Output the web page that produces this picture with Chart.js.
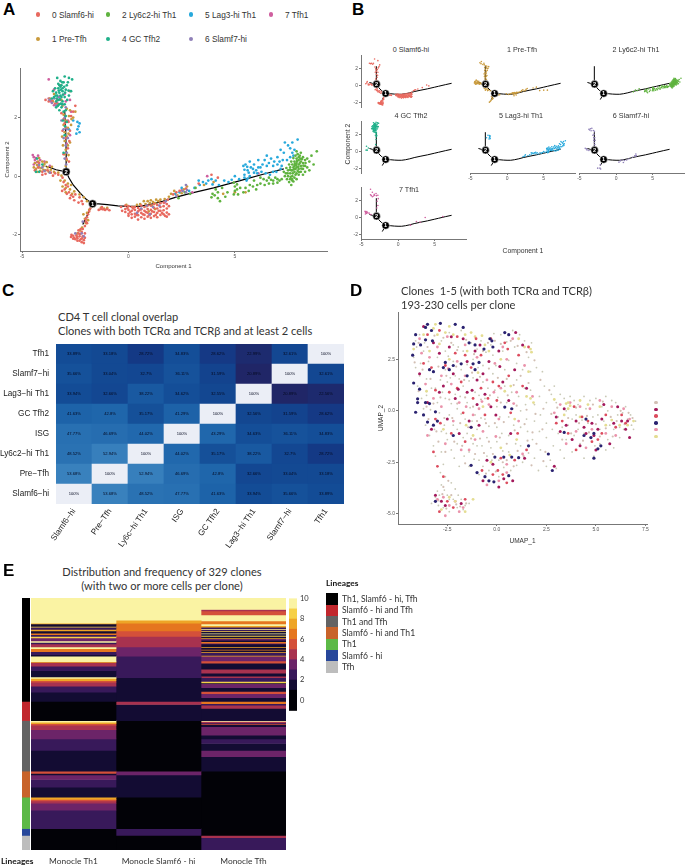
<!DOCTYPE html>
<html>
<head>
<meta charset="utf-8">
<title>CD4 T cell clones</title>
<script src="https://cdn.jsdelivr.net/npm/chart.js@4"></script>
<style>
  html, body { margin: 0; background: #fff; }
  #page { position: relative; width: 686px; height: 866px; overflow: hidden; }
  #page canvas { position: absolute; }
  .txt { position: absolute; white-space: pre; line-height: 1; color: #222; }
  .dot, .swatch { position: absolute; }
  .dot { border-radius: 50%; }
</style>
</head>
<body>
<div id="page"></div>
<script>
// Monocle clusters
const clusterNames = ["0 Slamf6-hi", "1 Pre-Tfh", "2 Ly6c2-hi Th1", "4 GC Tfh2", "5 Lag3-hi Th1", "6 Slamf7-hi", "7 Tfh1"];
const clusterColors = ["#e8695f", "#c99a3c", "#5fb33f", "#1fb08a", "#27a9dc", "#8f80b8", "#cf5f9f"];

const slamf6Pts = [[-2.7,-2.07],[-2.6,-2.03],[-2.55,-2.1],[-2.45,-2.02],[-2.4,-2.12],[-2.35,-1.95],[-2.3,-2.05],[-2.25,-2.15],[-2.2,-1.9],[-2.15,-2.05],[-2.1,-2.18],[-2.3,-2.2],[-2.2,-2.25],[-2.4,-2.2],[-2.5,-2.15],[-2.15,-1.8],[-2.05,-2.1],[-2.25,-1.8],[-2.35,-1.85],[-2.05,-1.95],[-2.1,-2.28],[-2.6,-2.13],[-2.68,-2],[-2.28,-1.97],[-2.18,-2.12],[-2.42,-2.07],[-2.05,-1.7],[-2,-1.55],[-1.95,-1.4],[-1.9,-1.3],[-1.85,-1.2],[-1.8,-1.1],[-1.95,-1.6],[-2.02,-1.47],[-1.4,-1.15],[-1.3,-1.12],[-1.2,-1.13],[-1.1,-1.15],[-1,-1.12],[-0.9,-1.16],[-1.25,-1.05],[-0.35,-1.05],[-0.3,-1.18],[-0.15,-1],[-0.15,-1.12],[-0.15,-1.22],[0,-1.02],[0,-1.15],[0,-1.28],[0,-1.35],[0.15,-1.05],[0.15,-1.18],[0.15,-1.3],[0.15,-1.42],[0.3,-1.05],[0.3,-1.15],[0.3,-1.28],[0.3,-1.38],[0.45,-1.08],[0.45,-1.2],[0.45,-1.33],[0.45,-1.48],[0.6,-1],[0.6,-1.13],[0.6,-1.25],[0.6,-1.4],[0.75,-1.05],[0.75,-1.18],[0.75,-1.32],[0.75,-1.45],[0.9,-1],[0.9,-1.12],[0.9,-1.25],[0.9,-1.38],[1.05,-1],[1.05,-1.15],[1.05,-1.28],[1.05,-1.42],[1.2,-0.95],[1.2,-1.08],[1.2,-1.22],[1.2,-1.36],[1.35,-0.98],[1.35,-1.1],[1.35,-1.25],[1.35,-1.4],[1.5,-0.92],[1.5,-1.05],[1.5,-1.18],[1.5,-1.32],[1.65,-0.9],[1.65,-1.02],[1.65,-1.16],[1.65,-1.3],[1.8,-0.95],[1.8,-1.1],[1.8,-1.24],[1.8,-1.38],[1.85,-0.8],[1.9,-1.02],[1.9,-1.3],[2.1,-0.62],[2.25,-0.55],[2.4,-0.5],[2.7,-0.42],[3.3,-0.25],[3.9,0.05],[4.2,-0.05],[-3.12,-0.5],[-3,-0.45],[-2.9,-0.6],[-2.8,-0.55],[-2.7,-0.65],[-2.6,-0.7],[-2.95,-0.3],[-3.05,-0.2],[-3.1,-0.05],[-2.5,-0.62],[-2.3,-0.72],[-2.2,-0.85],[-2.85,-0.35],[-2.92,0.6],[-2.85,0.95],[-2.95,1.3],[-2.75,1.55],[-3,1.8],[-2.6,2.2],[-3.35,2.6],[-3.2,3.1],[-2.75,2.9],[-2.5,2.4],[-4.4,0.2],[-4.2,0.45],[-4.05,0.15],[-3.8,0.2],[-3.65,0.12],[-3.45,0.1],[-3.3,0.05],[-2.8,0.5],[-3.05,0.75],[-2.78,1.2],[-3.1,1.55],[-2.95,1.65],[-2.82,1.85],[-3.05,1.95],[-2.7,2.05],[-3.15,2.15],[-3.6,2.58],[-3.75,2.55],[-3.45,2.48],[-3.9,2.6],[-4.25,0.3],[-4.05,0.05],[-3.9,0.08],[-3.55,0.02],[-2.75,-0.75],[-2.55,-0.82],[-2.35,-0.9],[-2.15,-0.95],[-0.05,-1.08],[0.08,-1.22],[0.22,-1.1],[0.38,-1.32],[0.52,-1.15],[0.68,-1.3],[0.82,-1.22],[0.98,-1.33],[1.12,-1.2],[1.28,-1.32],[1.42,-1.18],[1.58,-1.25],[1.72,-1.35]];

const preTfhPts = [[-2.12,-1.3],[-2.05,-1.45],[-2,-1.6],[-1.95,-1.25],[-1.85,-1.15],[-1.9,-1.5],[-2.18,-1.75],[-2.28,-1.85],[-2.4,-1.95],[-1.75,-1.05],[-1.8,-0.9],[-1.95,-0.85],[-2.1,-0.72],[-2.3,-0.62],[-2.55,-0.52],[-2.75,-0.45],[-2.95,-0.4],[-3.1,-0.35],[-3,-0.15],[-2.85,-0.25],[-2.7,-0.3],[-3.15,0.02],[-3.3,0.12],[-3.5,0.15],[-3.65,0.22],[-3.8,0.3],[-3.9,0.2],[-4,0.35],[-4.1,0.28],[-4.2,0.3],[-4.3,0.38],[-4.4,0.45],[-4.35,0.25],[-4.25,0.5],[-4.05,0.5],[-3.95,0.42],[-3.85,0.48],[-4.15,0.18],[-4.45,0.3],[-2.95,0.35],[-2.9,0.55],[-3,0.75],[-2.95,0.9],[-2.85,1.05],[-3,1.2],[-2.9,1.35],[-2.75,1.15],[-3,1.5],[-2.85,1.65],[-2.7,1.75],[-3.05,1.75],[-2.95,1.9],[-2.8,2.05],[-2.6,2],[-3.05,2.1],[-2.9,2.3],[-3.3,2.45],[-3.15,2.6],[-2.5,2.2],[-3.5,2.8],[-3.7,2.65],[-3.55,2.55],[0.72,-0.85],[0.8,-0.95],[0.9,-0.85],[1,-0.92],[1.05,-0.82],[1.15,-0.88],[1.25,-0.92],[1.3,-0.8],[0.85,-1.02],[1.1,-1],[1.4,-0.85],[1.5,-0.8],[1.7,-0.78],[1.9,-0.7],[2,-0.6],[2.15,-0.5],[2.3,-0.65],[2.5,-0.58],[2.6,-0.45],[2.75,-0.35],[0.95,-1.2],[1.25,-1.12],[0.55,-0.95],[-0.1,-0.98],[0.2,-1.05],[0.4,-0.98],[3.55,-0.3],[4,-0.2],[4.45,-0.6],[5,-0.55],[5.5,-0.55],[-1.3,-1.08],[-1.15,-1.1],[-1,-1.08],[-2.82,0.72],[-3.08,1.05],[-2.82,1.45],[-3.12,1.35],[-2.68,1.95],[-2.75,2.25],[-3.1,2.4],[-4.2,0.62],[-4,0.22],[-3.75,0.15],[-4.3,0.15],[-3.6,0.32],[-2.95,-0.55],[-2.65,-0.6],[-3.2,-0.15]];

const ly6c2Pts = [[7.4,0.1],[7.5,0.2],[7.5,0],[7.6,0.3],[7.6,0.1],[7.6,-0.1],[7.7,0.4],[7.7,0.2],[7.7,0],[7.7,-0.15],[7.8,0.5],[7.8,0.35],[7.8,0.15],[7.8,-0.05],[7.9,0.6],[7.9,0.45],[7.9,0.3],[7.9,0.1],[7.9,-0.1],[8,0.55],[8,0.4],[8,0.25],[8,0.05],[8.1,0.5],[8.1,0.35],[8.1,0.15],[8.2,0.45],[8.2,0.25],[8.2,0.05],[8.3,0.35],[8.3,0.15],[8.4,0.3],[8.5,0.5],[8.6,0.7],[8.7,0.4],[8.85,0.85],[8.4,0.6],[7.85,0.7],[7.95,0.75],[8.05,0.7],[7.75,0.62],[7.65,0.5],[7.55,0.4],[7.42,0.28],[7.3,0.15],[7.35,0],[7.45,-0.1],[7.55,-0.2],[7.65,-0.3],[7.75,-0.18],[7.68,-0.1],[8.3,0.55],[8.2,0.65],[8.5,0.2],[8.1,0.8],[7.95,0.18],[8.05,0.45],[7.85,0.25],[8.15,0.58],[7.75,0.3],[7.65,0.2],[7.85,0.05],[8,0.65],[7.9,0.85],[7.58,0.22],[7.72,0.1],[7.82,0.42],[7.92,0.52],[8.02,0.14],[8.12,0.26],[8.22,0.36],[8.32,0.45],[7.88,0.38],[7.62,-0.02],[7.78,0.24],[7.98,0.32],[8.08,0.6],[7.48,0.1],[7.2,-0.1],[7.1,-0.15],[7,-0.1],[7,-0.22],[6.9,-0.05],[6.8,-0.15],[6.8,-0.25],[6.7,-0.12],[6.6,-0.05],[6.6,-0.25],[6.5,-0.15],[6.4,-0.3],[6.35,-0.1],[6.2,-0.05],[6.2,-0.25],[6.05,-0.3],[6,-0.45],[5.9,-0.15],[5.85,-0.35],[5.7,-0.3],[5.65,-0.5],[5.5,-0.4],[5.4,-0.55],[5.25,-0.4],[5.15,-0.62],[5.1,-0.28],[5.1,-0.45],[5,-0.35],[5,-0.5],[4.95,-0.22],[4.95,-0.62],[4.4,-0.4],[4.2,-0.55],[4.2,-0.75],[4.05,-0.65],[4.1,-0.45],[4.3,-0.85],[4.55,-0.7],[4.65,-0.55],[3.9,-0.72],[3.95,-0.6],[2.9,-0.6],[2.65,-0.55],[3.15,-0.4],[2.35,-0.75]];

const gcTfh2Pts = [[-3.5,2.7],[-3.4,2.85],[-3.3,3],[-3.2,2.75],[-3.3,2.6],[-3.15,3.1],[-3.1,2.9],[-3,2.7],[-3.1,2.55],[-3.25,2.45],[-3.4,2.55],[-3.05,3.2],[-3.2,3.25],[-3.3,3.15],[-3.45,3],[-3.55,2.9],[-2.95,2.95],[-3.15,2.35],[-3.05,2.2],[-3.25,2.25],[-2.9,3.1],[-2.8,3.35],[-3,3.4],[-2.65,3.3],[-3.35,3.35],[-2.8,2.75],[-2.7,2.9],[-3.15,2.7],[-3.25,2.85],[-3,2.45],[-2.95,2.05],[-2.98,1.7],[-3,1.4],[-3.05,0.8],[-3.4,2.35],[-3.6,2.65],[-3.2,3.05],[-3.35,2.75],[-3.1,3],[-3.22,2.62],[-4.3,0.6],[-4.05,0.4],[-4.35,0.15],[-4.2,0.15],[-3.38,2.65],[-3.28,2.92],[-3.18,2.95],[-3.08,2.78],[-2.98,2.85],[-3.42,2.75],[-3.12,2.45],[-3.32,2.4],[-2.88,2.6],[-2.82,2.92],[-3.02,3.05],[-3.12,3.2],[-3.25,3.1],[-3.18,2.48],[-2.95,2.25],[-2.85,3.2],[-3.08,1.9],[-2.9,1.85]];

const lag3Pts = [[7.6,0.95],[7.7,1.15],[7.5,1.05],[7.8,0.9],[7.35,1.15],[7.95,1.25],[7.7,0.8],[7.6,0.65],[7.45,0.55],[7.25,0.55],[7.2,0.35],[7.15,0.25],[7,0.65],[7,0.4],[6.95,0.15],[6.8,0.35],[6.8,0.15],[6.7,0.6],[6.65,0.05],[6.5,0.7],[6.5,0.35],[6.45,0.1],[6.3,0.4],[6.25,0.15],[6.1,0.55],[6.1,0.3],[6.05,0.1],[5.9,0.4],[5.9,0.12],[5.75,0.3],[5.7,0.5],[5.7,0],[5.6,-0.08],[5.6,0.2],[5.55,-0.15],[5.45,0.05],[5.4,0.35],[5.45,-0.05],[5.45,0.22],[5.5,0.4],[5,0],[4.7,-0.2],[4.5,-0.15],[4.25,-0.3],[4.1,-0.15],[3.95,-0.28],[3.9,-0.1],[3.75,-0.15],[3.65,-0.25],[3.5,-0.2],[3.35,-0.3],[3.3,-0.15],[3.1,-0.4],[2.85,-0.5],[2.5,-0.4],[2.4,-0.55],[2.2,-0.6],[-2.4,1.85],[-2.35,1.7],[-2.3,1.8],[-2.3,1.5],[-2.4,1.6],[-2.45,1.45],[-2.6,1.9],[-2.8,1.6],[6.85,0.5],[6.6,0.45],[6.4,0.55],[6.2,0.3],[6,0.2],[5.85,0.25],[5.65,0.12],[5.58,0.32],[7.1,0.5],[7.3,0.8],[7.15,0.9],[7.75,0.7],[5.2,-0.1],[4.85,-0.12]];

const slamf7Pts = [[-3.6,2.5],[-3.5,2.65],[-3.3,2.7],[-3.1,2.45],[-2.95,2.35],[-3,2],[-2.9,1.6],[-3.05,1.3],[-2.95,1.05],[-2.9,0.8],[-3,0.6],[-2.93,0.4],[-4.05,0.3],[-3.95,0.18],[-4.2,0.38],[-3.7,0.12],[-2.15,-1.55],[-2.2,-1.95],[-2.5,-1.95],[-2.1,-2.05],[0.6,-1.1],[0.85,-1],[1.15,-1.05],[1.45,-1],[1.75,-0.85],[2.25,-0.68],[2.55,-0.5],[2.7,-0.55],[2.7,-0.3],[2.75,-0.47],[0.4,-1.25],[1,-1.3],[-3.7,2.6],[-3.4,2.42],[-3.15,1.9],[-2.85,1.3],[-3.05,1.6]];

const tfh1Pts = [[-3.75,2.65],[-3.65,2.55],[-3.5,2.42],[-3.35,2.5],[-3.2,2.6],[-2.75,2.6],[-2.7,2.2],[-2.85,1.9],[-2.75,1.4],[-2.9,1.1],[-3.75,3.3],[-3.5,2.95],[-4.45,0.65],[-4.4,0.55],[-4.3,0.48],[-4.45,0.4],[-4.35,0.62],[-4.15,0.55],[-3.95,0.5],[-4.5,0.72],[-3.7,0.35],[3,-0.55],[3.7,0],[1.7,-0.9],[2.5,-0.48],[6.1,0.1],[-3,2.8],[-3.25,2.7],[-2.95,2.55],[-4.25,0.7]];

// Trajectory backbone and branch nodes
const trunkLine = [[7.3,0.25],[6.5,0.1],[5.5,-0.1],[5,-0.2],[4,-0.4],[3,-0.57],[2.2,-0.72],[1.6,-0.86],[1,-0.97],[0.5,-1.03],[0,-1.03],[-0.5,-1.01],[-1,-0.97],[-1.4,-0.94],[-1.7,-0.94],[-2,-0.78],[-2.3,-0.55],[-2.6,-0.3],[-2.8,-0.05],[-2.93,0.15]];
const branchUp = [[-2.93,0.15],[-2.93,0.8],[-2.95,1.5],[-3,2.25]];
const branchLeft = [[-2.93,0.15],[-3.4,0.22],[-3.9,0.35]];
const branchDown = [[-1.69,-0.94],[-1.95,-1.35],[-2.15,-1.65]];
const nodePts = [[-1.69,-0.94],[-2.93,0.15]];
const nodeNames = ["1", "2"];

const compXTicks = [-5, 0, 5];
const compYTicks = [-2, 0, 2];

// C: clonal overlap
const overlapCols = ["Slamf6\u2212hi", "Pre\u2212Tfh", "Ly6c\u2212hi Th1", "ISG", "GC Tfh2", "Lag3\u2212hi Th1", "Slamf7\u2212hi", "Tfh1"];
const overlapRowNames = ["Slamf6\u2212hi", "Pre\u2212Tfh", "Ly6c2\u2212hi Th1", "ISG", "GC Tfh2", "Lag3\u2212hi Th1", "Slamf7\u2212hi", "Tfh1"];
const rowSlamf6 = [100, 53.68, 48.52, 47.77, 41.63, 33.94, 35.66, 33.89];
const rowPreTfh = [53.68, 100, 52.94, 46.69, 42.8, 32.66, 33.04, 33.18];
const rowLy6c2 = [48.52, 52.94, 100, 44.02, 35.17, 38.22, 32.7, 28.72];
const rowIsg = [47.77, 46.69, 44.02, 100, 43.29, 34.63, 36.11, 34.83];
const rowGc = [41.63, 42.8, 35.17, 41.29, 100, 32.56, 31.59, 28.62];
const rowLag3 = [33.94, 32.66, 38.22, 34.62, 32.55, 100, 20.89, 22.56];
const rowSlamf7 = [35.66, 33.04, 32.7, 36.11, 31.59, 20.89, 100, 32.61];
const rowTfh1 = [33.89, 33.18, 28.72, 34.83, 28.62, 22.99, 32.61, 100];

// D: UMAP, five biggest clones on the full background
const umapXTicks = [-2.5, 0, 2.5, 5, 7.5];
const umapYTicks = [-5, -2.5, 0, 2.5];
const cloneLegendColors = ["#d2bfb4", "#a3195b", "#dc4c5e", "#2a2270", "#ea93ab", "#e4dd92"];

const bgCells = [[-4.1,3.4],[-3.9,3.7],[-3.7,2.9],[-4.2,2.6],[-4.1,2.1],[-3.9,1.7],[-4,1.2],[-3.8,0.6],[-3.7,0.1],[-3.6,-0.7],[-3.4,-1.2],[-3.2,-1.7],[-3.1,-2.2],[-3,2.6],[-3.2,1.9],[-3.1,1.1],[-3,0.4],[-3,-0.5],[-2.8,-1],[-2.8,-2],[-2.7,-2.6],[-2.8,3.4],[-2.6,2.9],[-2.6,2],[-2.5,1.4],[-2.6,0.6],[-2.4,-0.2],[-2.5,-1.4],[-2.3,-1.9],[-2.4,3.8],[-2.2,3.2],[-2.2,2.4],[-2.1,1.7],[-2.1,0.8],[-2,0.1],[-2,-0.9],[-2,-1.6],[-1.9,-2.7],[-1.8,3.9],[-1.7,2.9],[-1.8,2],[-1.7,1.2],[-1.5,0.4],[-1.6,-0.4],[-1.5,-1.1],[-1.4,-2],[-1.4,-2.7],[-1.3,3.3],[-1.2,2.5],[-1.2,1.6],[-1.1,0.9],[-1.1,-0.2],[-1,-0.9],[-1,-1.7],[-0.9,-2.4],[-0.9,-3.1],[-0.8,3.4],[-0.7,2.2],[-0.7,1.4],[-0.6,0.6],[-0.6,-0.4],[-0.5,-1.3],[-0.5,-2.2],[-0.4,-2.9],[-0.3,3.2],[-0.2,2.7],[-0.2,1.8],[-0.1,1],[0,0.2],[0,-0.8],[0,-1.5],[0.1,-2.4],[0.1,-3.2],[0.2,3.7],[0.3,2.9],[0.4,2],[0.4,1.2],[0.5,0.4],[0.6,-0.3],[0.6,-1.2],[0.6,-2],[0.7,-2.9],[0.8,3.9],[0.9,3.1],[1,2.3],[1,1.5],[1.1,0.7],[1.2,0],[1.2,-0.8],[1.2,-1.7],[1.3,-2.5],[1.4,3.4],[1.6,2.6],[1.7,1.9],[1.7,1],[1.9,0.3],[1.9,-0.5],[1.8,-1.4],[1.9,-2.3],[2.1,-2.9],[2.3,1.9],[2.4,1.2],[2.5,0.4],[2.5,-0.6],[2.5,-1.3],[2.7,-2.4],[3,-2.8],[2.9,1.2],[3,0.4],[3.1,-0.3],[3.1,-1.1],[3.2,-1.9],[3.4,0.6],[3.5,0],[3.6,-0.7],[3.5,-1.4],[3.8,-2],[3.9,0.5],[4,-0.2],[4.1,-0.9],[4.2,-1.6],[4.4,-2.3],[4.4,0.7],[4.5,0.1],[4.6,-0.6],[4.7,-1.3],[4.9,-2.2],[5,0.6],[5.1,-0.2],[5.2,-0.9],[5.2,-1.6],[5.5,0.7],[5.6,0],[5.7,-0.7],[5.6,-1.4],[5.9,-1.8],[6,0.4],[6.1,-0.2],[6.2,-0.8],[6.2,-1.3],[6.5,0.2],[6.6,-0.4],[6.8,-0.7],[7,-0.5],[-3.1,-4.2],[-2.8,-3.6],[-2.7,-4.7],[-2.5,-4.1],[-2.6,-3.2],[-2.4,-4.9],[-2.2,-4.3],[-2.1,-3.8],[-2,-4.7],[-1.8,-4.3],[-1.6,-4.6],[-1.4,-4.5],[-3.3,-4.5],[-3,-3.9],[-2.3,-3.5],[-4.05,3.1],[-3.65,3.3],[-3.45,2.4],[-3.85,2.3],[-3.55,1.55],[-3.3,1.1],[-3.55,0.75],[-3.35,0.05],[-3.15,-0.9],[-2.85,1.5],[-2.75,0.9],[-2.9,-0.1],[-2.65,-0.7],[-2.55,-1.1],[-2.45,2.65],[-2.35,1.6],[-2.3,0.35],[-2.2,-0.7],[-2.15,-2.3],[-1.95,3.1],[-1.9,1.55],[-1.85,0.7],[-1.8,-0.15],[-1.7,-1.3],[-1.65,-2.2],[-1.5,2.25],[-1.4,1.45],[-1.35,0.15],[-1.25,-0.5],[-1.2,-1.6],[-1.15,-2.35],[-1,3],[-0.95,2.1],[-0.9,0.75],[-0.8,-0.35],[-0.75,-1.7],[-0.7,-2.7],[-0.55,2.85],[-0.45,1.1],[-0.4,-0.75],[-0.3,-1.8],[-0.25,-2.4],[-0.15,3.75],[-0.05,2.2],[0.05,0.65],[0.15,-0.3],[0.25,-1.1],[0.3,-1.95],[0.35,-2.75],[0.5,3.35],[0.6,2.45],[0.75,0.9],[0.8,0.1],[0.85,-0.7],[0.95,-1.6],[1,-2.65],[1.15,3.7],[1.3,2],[1.4,1.1],[1.45,0.3],[1.5,-0.4],[1.55,-1],[1.6,-2.05],[1.75,3.3],[2,2.1],[2.15,0.7],[2.2,-0.2],[2.15,-1],[2.2,-1.9],[2.5,-2.7],[2.75,0.8],[2.8,-0.9],[2.85,-1.7],[3.2,0.8],[3.3,-0.8],[3.4,-2.3],[3.7,0.7],[3.8,-0.4],[3.9,-1.2],[4.1,0.3],[4.3,-0.45],[4.4,-1.1],[4.7,0.5],[4.85,-0.3],[4.95,-1.7],[5.3,0.2],[5.4,-0.5],[5.5,-1.9],[5.8,0.5],[5.9,-0.9],[6.35,-0.1],[6.4,-0.9],[6.75,-0.2],[6.9,-0.9],[-2.9,-4.1],[-2.65,-3.85],[-2.4,-4.3],[-1.95,-4.1],[-1.7,-4.8],[-2.85,-3],[-2.95,-4.6]];
const cloneGrey = [[-3.95,3.3],[-3.5,3.1],[-3.15,3.65],[-2.7,3.55],[-2.3,3.3],[-2,2.95],[-1.55,3.45],[-1.15,2.75],[-0.7,2.9],[-0.45,3.3],[-0.1,3.4],[0.2,3.25],[0.7,3.4],[1.05,3.15],[1.5,2.85],[1.9,2.45],[2.2,1.5],[2.65,1],[-4.15,2.35],[-3.75,2],[-3.35,1.55],[-2.95,2.15],[-2.55,1.7],[-2.05,2.15],[-1.65,1.5],[-1.25,1.85],[-0.85,1.65],[-0.4,2.05],[0.05,1.6],[0.5,1.55],[0.85,1.25],[1.2,1.7],[1.6,1.35],[-3.95,0.95],[-3.55,0.2],[-3.2,0.35],[-2.85,0.65],[-2.4,0.55],[-2,0.35],[-1.6,0.65],[-1.2,0.2],[-0.8,0.55],[-0.35,0.75],[0.2,0.4],[0.55,0.75],[1,0.25],[1.5,0.05],[1.95,-0.15],[2.35,0.1],[-3.45,-0.4],[-3.05,-1],[-2.65,-0.35],[-2.25,-0.35],[-1.85,-0.6],[-1.45,-0.8],[-1,-0.5],[-0.55,-0.6],[-0.1,-0.6],[0.35,-0.55],[0.9,-0.95],[1.4,-0.65],[1.8,-1.05],[2.3,-0.9],[-2.95,-1.5],[-2.6,-2],[-2.15,-1.5],[-1.75,-1.7],[-1.3,-1.35],[-0.85,-1.35],[-0.4,-1.5],[0.15,-1.3],[0.5,-1.6],[1.05,-1.95],[1.55,-1.45],[2,-1.6],[2.45,-2],[-1.6,-2.55],[-1.1,-2.1],[-0.65,-2.05],[-0.2,-2.1],[0.3,-2.5],[0.85,-2.7],[1.35,-2.2],[1.75,-2.65],[2.35,-2.45],[-0.55,-3.05],[-0.05,-2.95],[0.5,-2.4],[2.75,-0.15],[3.05,0.15],[3.3,-1.4],[3.6,-0.35],[3.75,-1.1],[4,0.15],[4.15,-0.6],[4.35,-1.45],[4.55,-0.25],[4.65,-1.05],[4.85,0.3],[5,-0.65],[5.2,-1.25],[5.35,0.45],[5.5,-0.85],[5.75,-0.3],[5.85,-1.25],[6.05,-0.5],[6.25,0],[6.45,-0.65],[6.65,-0.1],[6.85,-0.35],[-2.95,-4.35],[-2.75,-4.05],[-2.55,-4.75],[-2.3,-4.1],[-2.05,-4.55],[-1.85,-4.65],[-1.55,-4.5],[-2.7,-3.7],[-2.45,-3.4]];
const cloneCrimson = [[-3.7,4.1],[-3.2,3.3],[-3.9,1.8],[-3.5,0.4],[-3.3,-0.9],[-2.9,2.8],[-2.7,1.2],[-2.5,-0.4],[-2.4,3.1],[-2.2,1.8],[-2.1,0.6],[-1.9,-1.1],[-1.7,3.5],[-1.5,2.4],[-1.5,0.9],[-1.4,-0.5],[-1.1,2.9],[-1,1.5],[-1,0.3],[-0.9,-0.7],[-0.7,1.8],[-0.6,0.8],[-0.4,2.4],[-0.3,0.2],[-0.2,-2.6],[0.1,2.9],[0.3,1.4],[0.6,0.5],[0.7,-1.1],[0.8,-3.4],[0.9,2],[1.3,3.2],[1.4,-2.3],[1.5,1.1],[0.1,-3.7],[-0.7,-3.4],[3,-0.3],[3.2,-1],[3.4,0.1],[3.5,-0.7],[3.8,-1.4],[4,-0.5],[4.2,-1.7],[4.4,-0.8],[4.5,-1.1],[4.8,-0.6],[4.9,-1.2],[5,-1.9],[5.1,-0.9],[5.3,-0.4],[5.4,0.3],[5.7,-1.6],[5.9,-0.6],[6.1,0.2],[6.3,-0.5],[6.5,-0.9],[6.6,-0.5],[6.7,-1.3],[-3.1,-4.1],[-2.8,-4.4],[-2.6,-4.6],[-1.8,-4.5],[2.9,-2.7],[-2.9,0.9],[-2.3,3.6],[-1.95,1.05],[-1.25,1],[-0.85,3.2],[0.15,2.15],[-0.05,-0.2],[0.95,3.8],[-0.5,-2.4],[0.35,-3.3]];
const cloneRed = [[-3.5,3.7],[-3.7,2.3],[-3.1,1],[-3.1,-0.4],[-2.9,3.9],[-2.6,2.2],[-2.4,0.9],[-2.3,-1.1],[-2,3.6],[-2.1,2.8],[-1.8,1.4],[-1.7,-0.1],[-1.6,-1.5],[-1.3,2.1],[-1.2,0.6],[-1.3,-0.8],[-0.8,2.7],[-0.8,1.1],[-0.6,-0.2],[-0.3,3.5],[-0.2,1.4],[0,0.5],[0.2,-2.3],[0.4,3.3],[0.6,1.7],[0.7,-0.1],[0.9,-2.4],[1.1,2.7],[1.3,1.2],[1.6,3.1],[1.5,-1.9],[-0.2,-3.1],[0.5,-3.5],[0.3,-3.1],[-3.2,-2],[-3,-2.7],[3,-0.6],[3.3,-0.5],[3.6,-1.1],[3.9,0.2],[4,-1.9],[4.3,-0.3],[4.6,-0.5],[4.8,-1.5],[5.1,-1.4],[5.3,-1.1],[5.5,-0.2],[6,-0.8],[6.3,-0.2],[6.5,-0.6],[-2.9,-4.9],[-2.5,-4.4],[-2.2,-4.7],[-1.6,-4.3],[-2.7,-3.2],[-3.3,2.1],[-2.85,-0.6],[-2,1.1],[-1.6,2.7],[-1.05,3.5],[-0.45,0.6],[0.1,1.2],[0.55,3],[1.05,-1.1],[0.05,-2.9],[-0.75,-2.9]];
const cloneNavy = [[-3.5,4.2],[-3.6,4.05],[-4.1,3.7],[-4.2,3.25],[-3.85,3.2],[-4.25,2.7],[-3.6,3.45],[-3.25,3.4],[-3.3,3.9],[-2.85,4.25],[-2.1,4.2],[-1.7,4.05],[-1.4,3.3],[-1.1,3.2],[-0.35,3.5],[0.4,3.8],[0.6,3.7],[-1.2,2.28],[-0.9,2.35],[-1.1,2],[-1.5,1.7],[-1.8,2.28],[-2.2,2.2],[-2.4,2],[-2.7,2.1],[-3.2,1.9],[-3.4,2],[-4.2,1.35],[-3.9,1.05],[-4,0.58],[-4,0.4],[-3.6,0.4],[-3.4,0.35],[-4.1,-0.07],[-3.7,-0.2],[-3.5,-0.55],[-3,-0.5],[-3.2,-0.7],[-3.1,-0.05],[-1.3,-0.8],[0.4,0.18],[0.75,0.1],[-0.1,-2.25],[0.35,-2.25],[0.75,-2.25],[1.1,-2.28],[-1,-3],[-0.6,-3.2],[-0.4,-3.4],[-0.15,-3.45],[0.6,-3.15],[-1.3,-2.65],[1.6,-1.7],[2.6,-2.1],[2.8,-2.9],[4.5,-0.4],[4.9,-1.1],[4.75,-1.3],[5.25,-1.7],[5.1,-1.85],[4.9,-2.3],[4.4,-1.2],[3.4,-1.05],[-3.1,-4.4],[-2.2,-1.2],[-2.6,2.35],[-0.2,3.1],[-0.65,3],[-0.25,3.4]];
const clonePink = [[-3.9,3.5],[-3.4,2.6],[-3.6,1.3],[-3.5,-1.2],[-3,3.1],[-2.8,1.7],[-2.8,0.2],[-2.6,-1.6],[-2.5,3.6],[-2.3,1.3],[-2.2,-0.5],[-2,2.4],[-1.9,0.4],[-1.8,-1.9],[-1.6,3.2],[-1.6,1.7],[-1.2,-0.2],[-1.1,-1.4],[-1,2.6],[-0.9,0.1],[-0.7,-1],[-0.5,1.5],[-0.4,0.3],[-0.1,2.3],[0.1,-0.4],[0.2,1.1],[0.5,2.5],[0.5,-2.6],[0.8,3.5],[1,0.9],[1.1,-0.5],[1.4,2.2],[1.3,-2.1],[1.8,0.7],[0.1,-3.4],[0.5,-3],[-0.5,-3.6],[2.9,-0.1],[3.2,0.3],[3.5,-1.6],[3.7,0.4],[4,-1],[4.2,0.2],[4.5,-1.8],[4.7,0.1],[4.8,-0.9],[5.2,0.5],[5.5,-1.1],[5.8,0.2],[6,-1.2],[6.4,0.1],[6.7,-0.4],[-3,-4.3],[-2.7,-4.2],[-2.4,-4.6],[-2.1,-4.4],[-1.9,-4.9],[-1.7,-4.7],[-2.6,-5.1],[-3.8,2.8],[-3.2,0.6],[-2.45,2.05],[-1.55,0.2],[-0.75,0.45],[-0.15,0.9],[0.3,3.1],[0.85,0.35],[-0.05,-1.25],[-1.4,-1.9]];
const cloneYellow = [[-3.1,4.2],[-3.2,4],[-3,3.7],[-3.7,3.7],[-2.6,3.8],[-2.4,4.1],[-2.2,3.7],[-1.6,3.7],[-1.3,3.8],[-1.1,3.6],[-4.2,3],[-3.4,2.9],[-0.6,3.2],[-0.4,2.9],[1.4,3.1],[1.7,3],[1.75,2.85],[1.1,3.5],[-2.4,2.5],[-1.5,2.9],[0.2,2.5],[0.7,1.2],[1.7,0.6],[1.85,0.4],[1.5,0.7],[-0.7,0.2],[0.9,-0.4],[-1.2,-1.2],[-2.7,-0.9],[0.2,-1.8],[1,-1.4],[-0.3,-2.5],[3.5,0.35],[3.7,0.25],[3.6,0.4],[3.4,-0.2],[3.6,0.1],[4.2,0.5],[4.6,0.3],[5.2,0.2],[5.5,-0.7],[6.2,-0.7],[6.6,-0.7],[6.9,-0.5],[4.2,-0.3],[-2.1,-4.4],[-2.4,-4.2],[-1.6,-4.9],[-1.2,-4.3],[-2.8,-4.8],[-0.95,1.85],[-2.9,3.25],[-3.55,0.95],[0.4,0.95],[1.6,1.9],[-1.55,-0.7],[0.65,-2.15],[-0.75,3.65],[2.9,0.55],[5.8,-0.45]];

// E: clones (row ends) and their frequency in each trajectory
const monocleCols = ["Monocle Th1", "Monocle Slamf6 - hi", "Monocle Tfh"];
const th1Ends = [33,34,37,38,41,43,46,48,50,52,56,58,60,64,66,70,74,76,83,84,89,95,103,105,108,110,115,123,135,160,162,164,166,172,184,199,226,229,231,237,247,260,263,265,268,277,301,329];
const th1Vals = [10,8,2,9,3,8,2,7,3,9,4,10,3,5,10,7,3,2,10,8,5,3,2,10,8,6,5,3,2,0,10,8,6,5,4,3,2,6,2,4,3,2,8,6,5,4,3,0];
const slamf6Ends = [29,33,43,50,64,76,104,135,139,160,226,231,260,301,310,329];
const slamf6Vals = [10,8,7,6,5,4,3,2,5,2,0,4,2,0,3,0];
const tfhEnds = [15,17,22,30,34,36,38,40,41,43,44,46,47,49,50,52,53,55,57,59,60,64,65,67,68,70,71,75,76,82,85,87,93,98,102,104,109,111,112,117,122,125,130,135,138,140,144,160,161,163,164,165,168,179,184,190,199,207,226,310,313,329];
const tfhVals = [10,5,6,10,7,10,8,3,10,3,9,2,10,2,9,2,8,4,2,7,4,2,8,2,7,2,8,3,8,4,6,2,2,5,2,5,3,9,2,4,2,6,4,2,7,3,5,2,10,5,3,6,2,4,2,3,2,4,2,0,5,3];

const lineageNames = ["Th1, Slamf6 - hi, Tfh", "Slamf6 - hi and Tfh", "Th1 and Tfh", "Slamf6 - hi and Th1", "Th1", "Slamf6 - hi", "Tfh"];
const lineageEnds = [135, 160, 226, 260, 301, 310, 329];
const lineageColors = ["#000000", "#c1272d", "#636363", "#c8632a", "#5cb947", "#27479a", "#bdbdbd"];

const freqTicks = [0, 2, 4, 6, 8, 10];
const freqBandEdges = [-1, 1, 2, 3, 4, 5, 6, 7, 8, 9, 10];
const freqBandColors = ["#020207", "#130c33", "#38195a", "#6c2468", "#a8324f", "#d4503a", "#e5761f", "#eea526", "#f6d047", "#faf3a3"];
// 0 and 1 share the first band
function freqColor(v) {
  return v <= 1 ? freqBandColors[0] : freqBandColors[v - 1];
}

const BODY_FONT = "'Liberation Sans', Arial, sans-serif";
const TITLE_FONT = "Lato, 'Open Sans', sans-serif";
const TITLE_SIZE = 11.1;
const page = document.getElementById("page");

Chart.defaults.animation = false;
Chart.defaults.responsive = false;
Chart.defaults.plugins.legend.display = false;
Chart.defaults.plugins.tooltip.enabled = false;

function addText(str, x, y, size, opts = {}) {
  const el = document.createElement("div");
  el.className = "txt";
  el.textContent = str;
  el.style.left = x + "px";
  el.style.top = y + "px";
  el.style.fontSize = size + "px";
  el.style.fontFamily = opts.font || BODY_FONT;
  if (opts.bold) el.style.fontWeight = opts.bold;
  if (opts.color) el.style.color = opts.color;
  const dx = opts.center ? "-50%" : "0";
  el.style.transform = `translate(${dx},-50%)` + (opts.rotate ? ` rotate(${opts.rotate}deg)` : "");
  page.appendChild(el);
}

function addDot(cx, cy, r, color) {
  const el = document.createElement("div");
  el.className = "dot";
  el.style.cssText = `left:${cx - r}px;top:${cy - r}px;width:${2 * r}px;height:${2 * r}px;background:${color}`;
  page.appendChild(el);
}

function toXY(pts) {
  return pts.map(([x, y]) => ({ x, y }));
}

/** Canvas for `box` [l,t,r,b] with the plot area forced on `plot` [l,t,r,b] */
function makeChart(box, plot, config) {
  const canvas = document.createElement("canvas");
  canvas.width = box[2] - box[0];
  canvas.height = box[3] - box[1];
  canvas.style.left = box[0] + "px";
  canvas.style.top = box[1] + "px";
  page.appendChild(canvas);

  const scales = config.options.scales;
  const yRight = scales.y.position === "right";
  scales.x.afterFit = (s) => { s.height = box[3] - plot[3]; s.paddingLeft = 0; s.paddingRight = 0; };
  scales.y.afterFit = (s) => { s.width = yRight ? box[2] - plot[2] : plot[0] - box[0]; s.paddingTop = 0; s.paddingBottom = 0; };
  config.options.layout = {
    autoPadding: false,
    padding: {
      top: plot[1] - box[1],
      right: yRight ? 0 : box[2] - plot[2],
      left: yRight ? plot[0] - box[0] : 0,
      bottom: 0
    }
  };
  return new Chart(canvas, config);
}

/** Axis with line and outward ticks when `line` is set */
function lineAxis(min, max, tickList, o = {}) {
  return {
    type: "linear",
    min,
    max,
    grid: { display: !!o.line, drawOnChartArea: false, tickLength: 2, tickColor: "#777" },
    border: { display: !!o.line, color: "#777" },
    ticks: {
      display: !!o.line,
      autoSkip: false,
      maxRotation: 0,
      minRotation: 0,
      padding: 1,
      color: "#555",
      font: { family: BODY_FONT, size: o.tickSize || 5 },
      callback: o.format || ((v) => String(v))
    },
    afterBuildTicks: (s) => { s.ticks = tickList.map((value) => ({ value })); },
    title: o.title ? {
      display: true,
      text: o.title,
      color: "#333",
      padding: { top: o.titlePad || 0, bottom: 0 },
      font: { family: BODY_FONT, size: o.titleSize || 6 }
    } : { display: false }
  };
}

const nodeLabelPlugin = {
  id: "nodeLabels",
  afterDatasetsDraw(chart) {
    chart.data.datasets.forEach((ds, i) => {
      if (!ds.isNodes) return;
      const { ctx } = chart;
      ctx.save();
      ctx.fillStyle = "#fff";
      ctx.font = `bold ${ds.pointRadius + 1.8}px ${BODY_FONT}`;
      ctx.textAlign = "center";
      ctx.textBaseline = "middle";
      chart.getDatasetMeta(i).data.forEach((pt, k) => ctx.fillText(nodeNames[k], pt.x, pt.y + 0.3));
      ctx.restore();
    });
  }
};

// lower `order` is painted last: nodes over points over lines
function trajectoryDatasets(lineWidth, nodeRadius) {
  const lines = [trunkLine, branchUp, branchLeft, branchDown].map((pts) => ({
    data: toXY(pts),
    showLine: true,
    borderColor: "#000",
    borderWidth: lineWidth,
    pointRadius: 0,
    order: 20
  }));
  lines.push({
    data: toXY(nodePts),
    isNodes: true,
    backgroundColor: "#000",
    borderColor: "#fff",
    borderWidth: 0.5,
    pointRadius: nodeRadius,
    order: 0
  });
  return lines;
}

function pointDataset(pts, color, radius, order) {
  return { data: toXY(pts), backgroundColor: color, borderWidth: 0, pointRadius: radius, order };
}

// --- Panel A ---
const clusterSeries = [slamf6Pts, preTfhPts, ly6c2Pts, gcTfh2Pts, lag3Pts, slamf7Pts, tfh1Pts];
const clusterOrder = [4, 5, 3, 1, 6, 2, 7];

makeChart([0, 60, 335, 270], [20, 68, 327, 251], {
  type: "scatter",
  data: {
    datasets: [
      ...clusterSeries.map((pts, i) => pointDataset(pts, clusterColors[i], 1.35, clusterOrder[i])),
      ...trajectoryDatasets(1.2, 4)
    ]
  },
  options: {
    scales: {
      x: lineAxis(-5.1, 9.33, compXTicks, { line: true, title: "Component 1", titlePad: 3 }),
      y: lineAxis(-2.55, 3.69, compYTicks, { line: true, title: "Component 2", titlePad: 4 })
    }
  },
  plugins: [nodeLabelPlugin]
});

const legendDotX = [38, 108, 191, 271, 38, 108, 191];
const legendTextX = [52, 122, 205, 285, 52, 122, 205];
const legendOrder = [0, 2, 4, 6, 1, 3, 5];
legendOrder.forEach((c, i) => {
  const y = i < 4 ? 14.5 : 39;
  addDot(legendDotX[i], y, 2.2, clusterColors[c]);
  addText(clusterNames[c], legendTextX[i], y, 8.3, { color: "#333" });
});

// --- Panel B ---
const facetLefts = [361, 470, 579];
const facetTops = [55, 121, 187];
const facetCells = [[0, 0], [0, 1], [0, 2], [1, 0], [1, 1], [1, 2], [2, 0]];
const facetTitleY = [50, 115.5, 189.5];
const facetTitleX = [411, 522, 636, 411, 521, 631, 409];

facetCells.forEach(([row, col], i) => {
  const l = facetLefts[col];
  const t = facetTops[row];
  const hasX = (row === 1 && col > 0) || row === 2;
  makeChart([l - 10, t, l + 106, t + 64], [l, t, l + 106, t + 52], {
    type: "scatter",
    data: {
      datasets: [
        pointDataset(clusterSeries[i], clusterColors[i], 0.8, 1),
        ...trajectoryDatasets(1, 3.8)
      ]
    },
    options: {
      scales: {
        x: lineAxis(-5.05, 9.4, compXTicks, { line: hasX }),
        y: lineAxis(-2.52, 3.56, compYTicks, { line: col === 0 })
      }
    },
    plugins: [nodeLabelPlugin]
  });
  addText(clusterNames[i], facetTitleX[i], facetTitleY[row], 7.2, { center: true, color: "#333" });
});
addText("Component 1", 523, 251, 6.8, { center: true, color: "#333" });
addText("Component 2", 347.5, 144, 6.8, { center: true, color: "#333", rotate: -90 });

// --- Panel C ---
const overlapRows = [rowSlamf6, rowPreTfh, rowLy6c2, rowIsg, rowGc, rowLag3, rowSlamf7, rowTfh1];
const heatStops = [[20, [33, 36, 100]], [29, [20, 58, 134]], [34, [19, 76, 150]], [42, [30, 100, 170]], [48, [40, 112, 178]], [54, [58, 130, 190]], [100, [235, 238, 246]]];

function overlapColor(v) {
  for (let i = 1; i < heatStops.length; i++) {
    if (v <= heatStops[i][0]) {
      const [v0, c0] = heatStops[i - 1];
      const [v1, c1] = heatStops[i];
      const f = (v - v0) / (v1 - v0);
      return `rgb(${c0.map((c, k) => Math.round(c + (c1[k] - c) * f)).join(",")})`;
    }
  }
  return "#ebeef6";
}

const cellTextPlugin = {
  id: "cellText",
  afterDatasetsDraw(chart) {
    const { ctx } = chart;
    ctx.save();
    ctx.font = `4.1px ${BODY_FONT}`;
    ctx.fillStyle = "#050a20";
    ctx.textAlign = "center";
    ctx.textBaseline = "middle";
    overlapRows.forEach((row, r) => {
      chart.getDatasetMeta(r).data.forEach((bar, c) => {
        ctx.fillText(row[c] + "%", bar.x, (bar.y + bar.base) / 2);
      });
    });
    ctx.restore();
  }
};

makeChart([0, 344, 350, 560], [56, 344, 344, 504], {
  type: "bar",
  data: {
    labels: overlapCols,
    datasets: overlapRows.map((row) => ({
      data: row.map(() => 1),
      backgroundColor: row.map(overlapColor),
      borderWidth: 0,
      barPercentage: 1,
      categoryPercentage: 1
    }))
  },
  options: {
    scales: {
      x: {
        stacked: true,
        grid: { display: false, drawTicks: false },
        border: { display: false },
        ticks: { autoSkip: false, maxRotation: 55, minRotation: 55, padding: 3, color: "#222", font: { family: BODY_FONT, size: 8.2 } }
      },
      y: {
        stacked: true,
        min: 0,
        max: 8,
        grid: { display: false, drawTicks: false },
        border: { display: false },
        afterBuildTicks: (s) => { s.ticks = overlapRowNames.map((n, i) => ({ value: i + 0.5 })); },
        ticks: {
          autoSkip: false,
          padding: 7,
          color: "#222",
          font: { family: BODY_FONT, size: 8.2 },
          callback: (v) => overlapRowNames[Math.floor(v)]
        }
      }
    }
  },
  plugins: [cellTextPlugin]
});

addText("CD4 T cell clonal overlap", 58, 317, TITLE_SIZE, { font: TITLE_FONT, color: "#333" });
addText("Clones with both TCR\u03B1 and TCR\u03B2 and at least 2 cells", 58, 331, TITLE_SIZE, { font: TITLE_FONT, color: "#333" });

// --- Panel D ---
const cloneSeries = [bgCells, cloneGrey, clonePink, cloneYellow, cloneRed, cloneCrimson, cloneNavy];
const cloneSeriesColors = ["#c9c9b6", "#d2bfb4", "#ea93ab", "#e4dd92", "#dc4c5e", "#a3195b", "#2a2270"];
const cloneSeriesRadius = [0.9, 1.1, 1.4, 1.4, 1.4, 1.5, 1.6];
const cloneSeriesOrder = [7, 6, 5, 4, 3, 2, 1];

makeChart([360, 312, 660, 545], [398, 312, 647, 524], {
  type: "scatter",
  data: { datasets: cloneSeries.map((pts, i) => pointDataset(pts, cloneSeriesColors[i], cloneSeriesRadius[i], cloneSeriesOrder[i])) },
  options: {
    scales: {
      x: lineAxis(-4.99, 7.58, umapXTicks, { line: true, format: (v) => v.toFixed(1), title: "UMAP_1", titlePad: 3, titleSize: 6.5 }),
      y: lineAxis(-5.5, 4.8, umapYTicks, { line: true, format: (v) => v.toFixed(1), title: "UMAP_2", titlePad: 17, titleSize: 6.5 })
    }
  }
});

cloneLegendColors.forEach((c, i) => addDot(656, 402.5 + i * 6.8, 1.8, c));
addText("Clones  1-5 (with both TCR\u03B1 and TCR\u03B2)", 401, 290.5, TITLE_SIZE, { font: TITLE_FONT, color: "#333" });
addText("193-230 cells per clone", 401, 305, TITLE_SIZE, { font: TITLE_FONT, color: "#333" });

// --- Panel E ---
function floatingRuns(ends, vals, slot, slots) {
  return ends.map((end, i) => {
    const data = new Array(slots).fill(null);
    data[slot] = [i ? ends[i - 1] : 0, end];
    return { data, backgroundColor: vals[i], borderWidth: 0, barPercentage: 1, categoryPercentage: 1 };
  });
}

const hiddenCategory = { stacked: true, grid: { display: false, drawTicks: false }, border: { display: false }, ticks: { display: false } };
const hiddenLinear = (min, max, reverse) => ({
  min, max, reverse,
  grid: { display: false, drawTicks: false },
  border: { display: false },
  ticks: { display: false }
});

makeChart([25, 598, 292, 866], [31, 598, 286, 850], {
  type: "bar",
  data: {
    labels: monocleCols,
    datasets: [
      ...floatingRuns(th1Ends, th1Vals.map(freqColor), 0, 3),
      ...floatingRuns(slamf6Ends, slamf6Vals.map(freqColor), 1, 3),
      ...floatingRuns(tfhEnds, tfhVals.map(freqColor), 2, 3)
    ]
  },
  options: {
    scales: {
      x: {
        stacked: true,
        grid: { display: false, drawTicks: false },
        border: { display: false },
        ticks: { autoSkip: false, maxRotation: 0, minRotation: 0, padding: 6, color: "#333", font: { family: TITLE_FONT, size: 8.4 } }
      },
      y: hiddenLinear(0, 329, true)
    }
  }
});

makeChart([22, 598, 30, 851], [22, 598, 30, 850], {
  type: "bar",
  data: { labels: ["Lineages"], datasets: floatingRuns(lineageEnds, lineageColors, 0, 1) },
  options: { scales: { x: hiddenCategory, y: hiddenLinear(0, 329, true) } }
});

makeChart([289, 592, 316, 716], [289, 598, 297, 711], {
  type: "bar",
  data: {
    labels: ["freq"],
    datasets: freqBandEdges.slice(1).map((top, i) => ({
      data: [[freqBandEdges[i], top]],
      backgroundColor: freqBandColors[i],
      borderWidth: 0,
      barPercentage: 1,
      categoryPercentage: 1
    }))
  },
  options: {
    scales: {
      x: hiddenCategory,
      y: {
        position: "right",
        min: -1.05,
        max: 10.07,
        grid: { display: false, drawTicks: false },
        border: { display: false },
        afterBuildTicks: (s) => { s.ticks = freqTicks.map((value) => ({ value })); },
        ticks: { autoSkip: false, padding: 3, color: "#333", font: { family: TITLE_FONT, size: 7.5 } }
      }
    }
  }
});

addText("Distribution and frequency of 329 clones", 162, 571.5, TITLE_SIZE, { font: TITLE_FONT, center: true, color: "#333" });
addText("(with two or more cells per clone)", 162, 586, TITLE_SIZE, { font: TITLE_FONT, center: true, color: "#333" });
addText("Lineages", 1, 861, 8.4, { font: TITLE_FONT, bold: 700, color: "#111" });
addText("Lineages", 326, 583, 8.4, { font: TITLE_FONT, bold: 700, color: "#111" });

lineageNames.forEach((name, i) => {
  const sw = document.createElement("div");
  sw.className = "swatch";
  sw.style.cssText = `left:326px;top:${593.3 + i * 11.33}px;width:12px;height:11.4px;background:${lineageColors[i]}`;
  page.appendChild(sw);
  addText(name, 342, 599 + i * 11.33, 8.6, { font: TITLE_FONT, color: "#333" });
});

// Panel letters
addText("A", 3, 9, 17, { bold: 700, color: "#000" });
addText("B", 352, 9, 17, { bold: 700, color: "#000" });
addText("C", 2, 290, 17, { bold: 700, color: "#000" });
addText("D", 350, 289.5, 17, { bold: 700, color: "#000" });
addText("E", 3, 570, 17, { bold: 700, color: "#000" });
</script>
</body>
</html>
